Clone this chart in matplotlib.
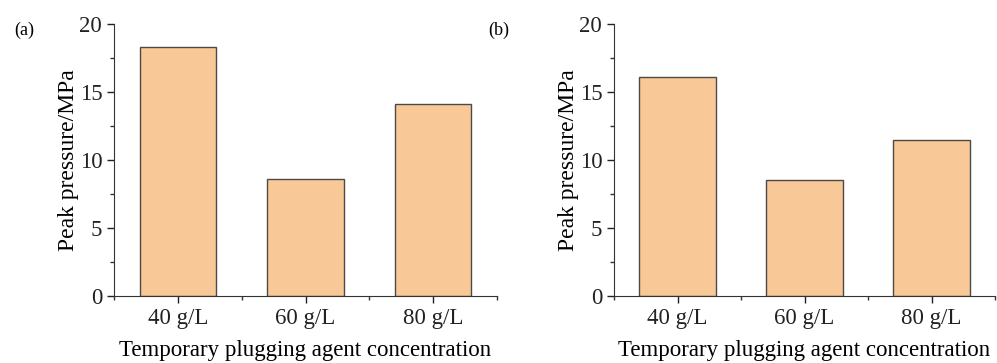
import matplotlib
matplotlib.use('Agg')
import matplotlib.pyplot as plt
from matplotlib.ticker import MultipleLocator

# --- Data ---
categories = ['40 g/L', '60 g/L', '80 g/L']
peak_a = [18.3, 8.6, 14.1]
peak_b = [16.1, 8.5, 11.5]
panel_tags = ['(a)', '(b)']

plt.rcParams['font.family'] = ['Liberation Serif', 'DejaVu Serif']

fig = plt.figure(figsize=(9.97, 3.63), dpi=100)
ax_a = fig.add_axes([114 / 997, 1 - 296 / 363, 383 / 997, 272 / 363])
ax_b = fig.add_axes([614 / 997, 1 - 296 / 363, 381 / 997, 272 / 363])

for ax, vals, tag, tx in zip([ax_a, ax_b], [peak_a, peak_b], panel_tags, [14, 488]):
    pos = list(range(1, len(categories) + 1))
    ax.bar(pos, vals, width=0.6, color='#F9C897', edgecolor='#4a4a4a', linewidth=1.0)
    ax.set_xlim(0.5, 3.5)
    ax.set_ylim(0, 20)
    ax.set_xticks(pos)
    ax.set_xticklabels(categories)
    ax.xaxis.set_minor_locator(MultipleLocator(1.0, offset=0.5))
    ax.yaxis.set_major_locator(MultipleLocator(5))
    ax.yaxis.set_minor_locator(MultipleLocator(2.5))
    for s in ['top', 'right']:
        ax.spines[s].set_visible(False)
    for s in ['left', 'bottom']:
        ax.spines[s].set_color('#333333')
    ax.tick_params(which='major', direction='out', length=5, width=1, labelsize=16.5, colors='#222222')
    ax.tick_params(which='minor', direction='out', length=3, width=1, colors='#333333')
    ax.set_ylabel('Peak pressure/MPa', fontsize=17, labelpad=0)
    ax.set_xlabel('Temporary plugging agent concentration', fontsize=16.5, labelpad=8)
    fig.text(tx / 997, 1 - 30 / 363, tag, fontsize=13, va='center', ha='left')

fig.savefig('out.png', dpi=100)
